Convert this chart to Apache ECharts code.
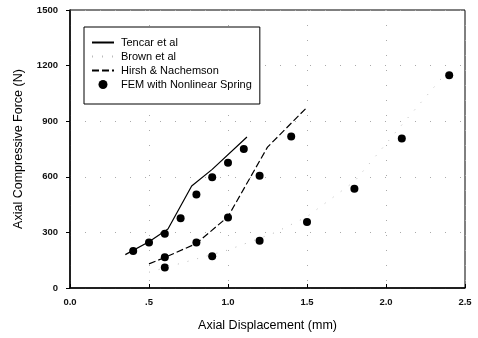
<!DOCTYPE html>
<html>
<head>
<meta charset="utf-8">
<script src="https://cdn.jsdelivr.net/npm/echarts@6/dist/echarts.min.js"></script>
<style>html,body{margin:0;padding:0;background:#fff}#c{width:478px;height:338px}</style>
</head>
<body>
<div id="c"></div>
<script>
const xTicks = [0, 0.5, 1.0, 1.5, 2.0, 2.5];
const xTickLabels = ['0.0', '.5', '1.0', '1.5', '2.0', '2.5'];
const yTicks = [0, 300, 600, 900, 1200, 1500];

const tencarX = [0.35, 0.5, 0.62, 0.77, 0.9, 1.12];
const tencarY = [180, 250, 318, 550, 640, 815];

const brownX = [0.5, 1.0, 1.3, 1.5, 1.8, 2.1, 2.4];
const brownY = [85, 205, 300, 385, 575, 880, 1180];

const hirshX = [0.5, 0.6, 0.8, 1.0, 1.1, 1.25, 1.5];
const hirshY = [130, 165, 240, 385, 535, 760, 975];

const femX = [0.4, 0.5, 0.6, 0.7, 0.8, 0.9, 1.0, 1.1, 0.6, 0.6, 0.8, 0.9, 1.0, 1.2, 1.4, 1.2, 1.5, 1.8, 2.1, 2.4];
const femY = [200, 245, 293, 376, 504, 597, 676, 750, 166, 110, 245, 171, 381, 606, 818, 255, 356, 536, 806, 1148];

const seriesNames = ['Tencar et al', 'Brown et al', 'Hirsh & Nachemson', 'FEM with Nonlinear Spring'];

const zip = (a, b) => a.map((v, i) => [v, b[i]]);
const font = 'Arial, "Liberation Sans", sans-serif';

const chart = echarts.init(document.getElementById('c'), null, {renderer: 'canvas'});
chart.setOption({
  animation: false,
  backgroundColor: '#fff',
  grid: {left: 70, right: 13, top: 10, bottom: 50, show: true, borderColor: '#000', borderWidth: 1, backgroundColor: 'transparent'},
  legend: {
    orient: 'vertical', left: 84, top: 27,
    backgroundColor: '#fff', borderColor: '#000', borderWidth: 1,
    padding: [10, 8, 14, 7], itemGap: 3, itemWidth: 22, itemHeight: 9,
    textStyle: {fontFamily: font, fontSize: 11, color: '#000', padding: [0, 0, 0, 2]},
    data: seriesNames.map((n, i) => i === 3
      ? {name: n, icon: 'circle', itemStyle: {color: '#000', opacity: 1}}
      : {name: n, itemStyle: {opacity: 0}})
  },
  xAxis: {
    type: 'value', min: 0, max: 2.5, interval: 0.5,
    name: 'Axial Displacement (mm)', nameLocation: 'middle', nameGap: 31,
    nameTextStyle: {fontFamily: font, fontSize: 12.5, color: '#000'},
    axisLine: {lineStyle: {color: '#000', width: 1.5}},
    axisTick: {inside: true, length: 4, lineStyle: {color: '#000'}},
    axisLabel: {margin: 9, fontFamily: font, fontSize: 9.5, fontWeight: 'bold', color: '#111',
      formatter: v => { const i = xTicks.findIndex(t => Math.abs(t - v) < 1e-9); return i >= 0 ? xTickLabels[i] : ''; }},
    splitLine: {show: true, lineStyle: {color: '#aaa', type: [1, 14], width: 1}}
  },
  yAxis: {
    type: 'value', min: 0, max: 1500, interval: 300,
    name: 'Axial Compressive Force (N)', nameLocation: 'middle', nameGap: 45,
    nameTextStyle: {fontFamily: font, fontSize: 12.5, color: '#000'},
    axisLine: {show: true, lineStyle: {color: '#000', width: 1.5}},
    axisTick: {show: true, inside: false, length: 4, lineStyle: {color: '#000'}},
    axisLabel: {margin: 12, fontFamily: font, fontSize: 9.5, fontWeight: 'bold', color: '#111',
      formatter: v => yTicks.includes(v) ? String(v) : ''},
    splitLine: {show: true, lineStyle: {color: '#aaa', type: [1, 14], width: 1}}
  },
  series: [
    {name: seriesNames[0], type: 'line', data: zip(tencarX, tencarY), showSymbol: false, symbol: 'none',
      lineStyle: {color: '#000', width: 1.2, type: 'solid'}, itemStyle: {color: '#000'}},
    {name: seriesNames[1], type: 'line', data: zip(brownX, brownY), showSymbol: false, symbol: 'none',
      lineStyle: {color: '#bbb', width: 1, type: [1, 9]}, itemStyle: {color: '#bbb'}},
    {name: seriesNames[2], type: 'line', data: zip(hirshX, hirshY), showSymbol: false, symbol: 'none',
      lineStyle: {color: '#000', width: 1.2, type: [7, 3]}, itemStyle: {color: '#000'}},
    {name: seriesNames[3], type: 'scatter', data: zip(femX, femY), symbol: 'circle', symbolSize: 8,
      itemStyle: {color: '#000', opacity: 1}}
  ]
});
</script>
</body>
</html>
